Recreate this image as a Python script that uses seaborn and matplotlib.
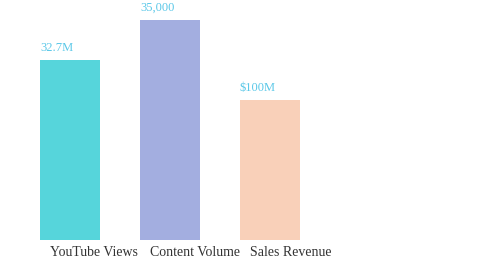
import matplotlib
matplotlib.use("Agg")
import matplotlib.pyplot as plt
import seaborn as sns
import pandas as pd

categories = ["YouTube Views", "Content Volume", "Sales Revenue"]
heights = [180, 220, 140]
value_labels = ["32.7M", "35,000", "$100M"]
colors = ["#56D5DB", "#A3AEE0", "#F9D0B9"]

sns.set_theme(style="white")
plt.rcParams["font.family"] = ["Liberation Serif", "DejaVu Serif"]

df = pd.DataFrame({"cat": categories, "h": heights})
fig = plt.figure(figsize=(4.8, 2.8), dpi=100)
ax = fig.add_axes([0, 40 / 280, 1, 240 / 280])
sns.barplot(data=df, x="cat", y="h", hue="cat", palette=colors, width=0.6,
            legend=False, ax=ax, saturation=1, linewidth=0, edgecolor="none")
ax.set_xlim(-0.7, 4.1)
ax.set_ylim(0, 240)
ax.axis("off")

for i, (h, lab, cat) in enumerate(zip(heights, value_labels, categories)):
    ax.annotate(lab, xy=(i - 0.3, h), xytext=(0, 9), textcoords="offset pixels",
                ha="left", va="baseline", fontsize=9, color="#5BC8E8")
    ax.annotate(cat, xy=(i - 0.2, 0), xytext=(0, -16), textcoords="offset pixels",
                ha="left", va="baseline", fontsize=10, color="#333333",
                annotation_clip=False)

fig.savefig("out.png", dpi=100)
